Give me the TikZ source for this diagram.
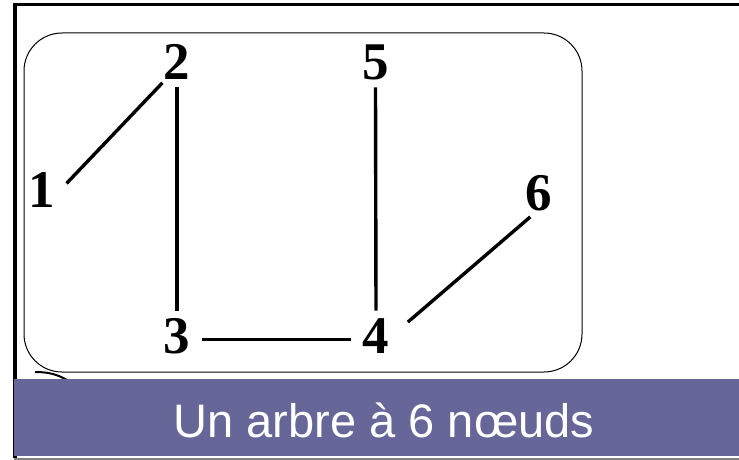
\documentclass[tikz,border=0pt]{standalone}
\usepackage{fontspec}
\setmainfont{Liberation Serif}
\newfontfamily\bannerfont{Liberation Sans}
\usepackage{tikz}
\usetikzlibrary{positioning}
\definecolor{bannerblue}{RGB}{102,102,153}

\begin{document}
\begin{tikzpicture}[
    x=0.5pt, y=-0.5pt,
    vertex/.style={circle, minimum size=25pt, inner sep=0pt, font=\fontsize{26.5}{26.5}\selectfont\bfseries},
    edge/.style={line width=1.7pt},
    frame/.style={draw=black, line width=0.5pt, rounded corners=19pt},
    banner/.style={fill=bannerblue, draw=none}
]
    \useasboundingbox (0,0) rectangle (739,460);

    % cadre
    \draw[line width=1.7pt] (14,4.5) -- (739,4.5);
    \draw[line width=1.7pt] (15,3) -- (15,458);
    \draw[gray, line width=1pt] (14,459) -- (739,459);
    \draw[frame] (24,33) rectangle (582,372);
    \draw[line width=1pt] (35,372) .. controls (50,372) and (58,375) .. (67,380);
    \fill[banner] (14,379) rectangle (739,456);
    \node (titre) [anchor=base, text=white, font=\bannerfont\fontsize{23.5}{23.5}\selectfont] at (384,437) {Un arbre à 6 nœuds};

    % sommets
    \node (n1) [vertex] at (42,190) {1};
    \node (n2) [vertex] at (177,62) {2};
    \node (n5) [vertex] at (375.5,62) {5};
    \node (n3) [vertex] at (177,336) {3};
    \node (n4) [vertex] at (376,336) {4};
    \node (n6) [vertex] at (539,193) {6};

    % aretes
    \draw[edge] (n1.15) -- (n2.235);
    \draw[edge] (n2) -- (n3);
    \draw[edge] (n5.south) -- (n4.north);
    \draw[edge] (n3.-8) -- (n4.188);
    \draw[edge, shorten <=5pt] (n4.17) -- (n6.250);
\end{tikzpicture}
\end{document}
